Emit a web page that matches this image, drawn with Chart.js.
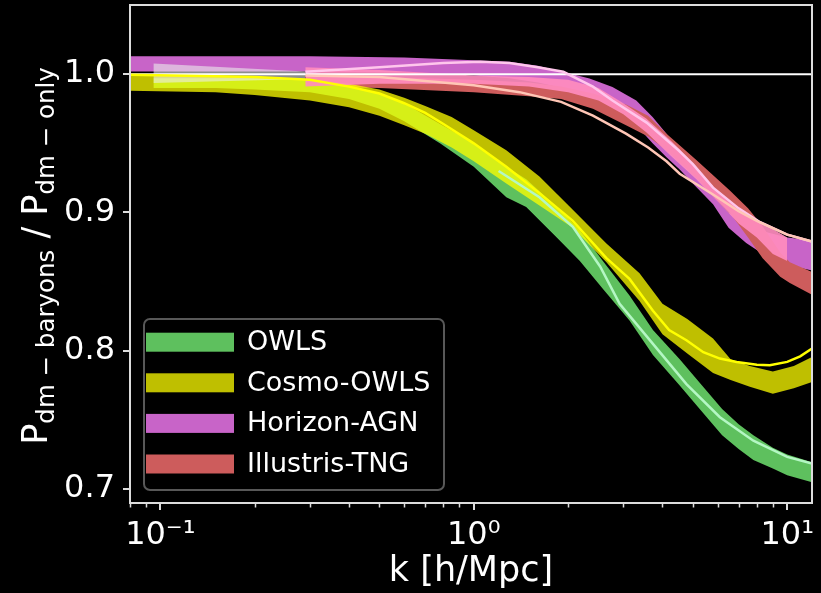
<!DOCTYPE html>
<html>
<head>
<meta charset="utf-8">
<script src="https://cdn.jsdelivr.net/npm/chart.js@4.4.1/dist/chart.umd.min.js"></script>
<style>
  html, body { margin: 0; padding: 0; background: #000; }
  canvas { display: block; }
</style>
</head>
<body>
<canvas id="c" width="821" height="593"></canvas>
<script>
// ---- Ratio of matter power spectra, baryonic runs over dark-matter-only runs ----

// OWLS band
const owlsK  = [0.095, 0.15, 0.2, 0.3, 0.4, 0.5, 0.6, 0.78, 1.0, 1.27, 1.47, 1.84, 2.18, 2.6, 3.14, 3.73, 4.54, 5.3, 6.2, 7.0, 7.8, 9.0, 10, 12];
const owlsLo = [0.990, 0.990, 0.989, 0.987, 0.982, 0.975, 0.966, 0.950, 0.933, 0.911, 0.904, 0.882, 0.865, 0.844, 0.822, 0.797, 0.775, 0.757, 0.739, 0.729, 0.721, 0.715, 0.710, 0.705];
const owlsHi = [0.997, 0.997, 0.997, 0.996, 0.992, 0.986, 0.979, 0.964, 0.950, 0.933, 0.924, 0.904, 0.887, 0.864, 0.840, 0.815, 0.794, 0.776, 0.758, 0.747, 0.739, 0.730, 0.725, 0.7195];

// Cosmo-OWLS band
const cosmoK  = [0.08, 0.15, 0.2, 0.3, 0.4, 0.5, 0.6, 0.7, 0.85, 1.0, 1.27, 1.62, 2.07, 2.65, 3.38, 4.0, 4.8, 5.8, 6.6, 7.6, 9.0, 10.5, 12];
const cosmoLo = [0.988, 0.987, 0.985, 0.981, 0.976, 0.970, 0.963, 0.957, 0.947, 0.937, 0.921, 0.905, 0.889, 0.864, 0.836, 0.812, 0.798, 0.784, 0.779, 0.774, 0.769, 0.773, 0.7775];
const cosmoHi = [0.999, 0.999, 0.998, 0.996, 0.993, 0.989, 0.983, 0.977, 0.969, 0.9595, 0.945, 0.926, 0.902, 0.8776, 0.856, 0.834, 0.823, 0.809, 0.794, 0.789, 0.785, 0.789, 0.7955];

// Horizon-AGN band
const horizonK  = [0.08, 0.3, 0.6, 1.0, 1.3, 1.6, 1.92, 2.34, 2.77, 3.3, 3.72, 4.12, 4.54, 5.0, 5.8, 6.5, 7.4, 8.5, 10, 12];
const horizonLo = [1.002, 1.002, 1.001, 0.999, 0.997, 0.994, 0.990, 0.984, 0.976, 0.963, 0.950, 0.940, 0.931, 0.921, 0.906, 0.889, 0.878, 0.869, 0.862, 0.858];
const horizonHi = [1.013, 1.013, 1.012, 1.010, 1.009, 1.006, 1.0017, 0.9969, 0.9908, 0.981, 0.969, 0.957, 0.944, 0.930, 0.912, 0.900, 0.892, 0.886, 0.882, 0.880];

// Illustris-TNG band
const tngK  = [0.29, 0.5, 1.0, 1.5, 1.9, 2.4, 3.06, 3.6, 4.12, 5.13, 6.55, 7.5, 8.35, 9.5, 10.2, 12];
const tngLo = [0.991, 0.990, 0.987, 0.984, 0.982, 0.975, 0.963, 0.955, 0.945, 0.925, 0.900, 0.882, 0.867, 0.8535, 0.849, 0.8405];
const tngHi = [0.999, 0.998, 0.996, 0.994, 0.991, 0.986, 0.978, 0.970, 0.957, 0.938, 0.916, 0.903, 0.890, 0.871, 0.864, 0.857];

// light grey large-scale band
const paleK  = [0.095, 0.29];
const paleLo = [0.9937, 0.9965];
const paleHi = [1.0077, 1.002];

// pink band
const pinkK  = [0.29, 0.5, 1.0, 1.5, 2.0, 2.5, 3.0, 3.55, 4.3, 5.13, 6.0, 7.0, 8.0, 9.0, 10.0];
const pinkLo = [0.991, 0.993, 0.993, 0.991, 0.987, 0.981, 0.971, 0.958, 0.940, 0.924, 0.908, 0.892, 0.882, 0.870, 0.865];
const pinkHi = [1.005, 1.003, 0.999, 0.998, 0.996, 0.990, 0.979, 0.968, 0.951, 0.933, 0.915, 0.903, 0.895, 0.888, 0.882];

// single curves
const yellowK = [0.08, 0.2, 0.3, 0.4, 0.5, 0.6, 0.7, 0.8, 1.0, 1.27, 1.62, 2.07, 2.65, 3.14, 3.73, 4.2, 4.77, 5.4, 6.1, 6.9, 8.0, 8.8, 10, 11, 12];
const yellowV = [0.9995, 0.998, 0.996, 0.991, 0.986, 0.979, 0.972, 0.964, 0.950, 0.933, 0.914, 0.894, 0.867, 0.852, 0.829, 0.815, 0.8077, 0.799, 0.7944, 0.792, 0.790, 0.7896, 0.792, 0.796, 0.8017];

const mintK = [1.2, 1.62, 2.07, 2.53, 2.92, 3.73, 4.77, 6.1, 7.8, 10, 12];
const mintV = [0.930, 0.911, 0.8896, 0.861, 0.834, 0.805, 0.776, 0.752, 0.735, 0.7233, 0.7185];

const roseK = [0.29, 0.5, 0.8, 1.05, 1.3, 1.6, 1.93, 2.4, 2.77, 3.56, 4.5, 5.0, 5.8, 7.0, 8.2, 10, 12];
const roseV = [1.0017, 1.005, 1.008, 1.009, 1.008, 1.005, 1.0017, 0.991, 0.981, 0.965, 0.945, 0.935, 0.918, 0.903, 0.893, 0.884, 0.879];

const peachK = [0.29, 0.5, 1.0, 1.4, 1.9, 2.4, 3.06, 3.6, 4.12, 4.54, 5.8, 7.0, 8.0, 10, 12];
const peachV = [0.999, 0.998, 0.992, 0.987, 0.980, 0.970, 0.957, 0.947, 0.937, 0.928, 0.913, 0.901, 0.894, 0.884, 0.879];

// reference level
const unityK = [0.08, 12];
const unityV = [1.0, 1.0];

// labels and ticks
const legendLabels = ['OWLS', 'Cosmo-OWLS', 'Horizon-AGN', 'Illustris-TNG'];
const xTickValues = [0.1, 1, 10];
const xTickLabels = ['10\u207B\u00B9', '10\u2070', '10\u00B9'];
const yTickValues = [0.7, 0.8, 0.9, 1.0];
const yTickLabels = ['0.7', '0.8', '0.9', '1.0'];
const xTitle = 'k [h/Mpc]';
const yTitleParts = [['P', 'dm \u2212 baryons'], ['P', 'dm \u2212 only']];

// ---- styling ----
const COL = {
  owls: '#5ec05e',
  cosmo: 'rgba(255,255,0,0.75)',
  horizon: '#c864c8',
  tng: '#cd5c5c',
  pale: 'rgba(235,235,235,0.6)',
  pink: 'rgba(255,140,190,0.92)'
};
const FONT = 'DejaVu Sans';

const pts = (k, v) => k.map((x, i) => ({ x, y: v[i] }));

function band(k, lo, hi, color, order) {
  return [
    { data: pts(k, lo), borderWidth: 0, borderColor: 'rgba(0,0,0,0)', pointRadius: 0, fill: false, order },
    { data: pts(k, hi), borderWidth: 0, borderColor: 'rgba(0,0,0,0)', pointRadius: 0, fill: '-1', backgroundColor: color, order }
  ];
}
function curve(k, v, color, width, order) {
  return { data: pts(k, v), borderColor: color, borderWidth: width, pointRadius: 0, fill: false, order };
}

const datasets = [
  ...band(horizonK, horizonLo, horizonHi, COL.horizon, 90),
  ...band(tngK, tngLo, tngHi, COL.tng, 85),
  ...band(owlsK, owlsLo, owlsHi, COL.owls, 80),
  ...band(cosmoK, cosmoLo, cosmoHi, COL.cosmo, 75),
  ...band(paleK, paleLo, paleHi, COL.pale, 70),
  ...band(pinkK, pinkLo, pinkHi, COL.pink, 65),
  curve(unityK, unityV, '#ffffff', 2, 60),
  curve(yellowK, yellowV, '#ffff00', 2.5, 50),
  curve(mintK, mintV, '#b4f7c4', 2.5, 50),
  curve(peachK, peachV, '#ffc6b6', 2.5, 50),
  curve(roseK, roseV, '#ffc6ec', 2.5, 50)
];

const legendColors = [COL.owls, COL.cosmo, COL.horizon, COL.tng];

// spines, minor ticks, legend and the y-axis title
const decor = {
  id: 'decor',
  afterDatasetsDraw(chart) {
    const { ctx, chartArea: a, scales: { x } } = chart;
    ctx.save();
    ctx.strokeStyle = '#dcdcdc';
    ctx.lineWidth = 2;
    ctx.strokeRect(a.left, a.top, a.right - a.left, a.bottom - a.top);

    // minor ticks on the log axis
    ctx.lineWidth = 1.5;
    ctx.beginPath();
    for (let d = -2; d <= 1; d++) {
      for (let m = 2; m <= 9; m++) {
        const v = m * Math.pow(10, d);
        if (v < x.min || v > x.max) continue;
        const px = Math.round(x.getPixelForValue(v)) + 0.5;
        ctx.moveTo(px, a.bottom);
        ctx.lineTo(px, a.bottom + 4.5);
      }
    }
    ctx.stroke();

    // legend
    const bx = 144, by = 319, bw = 300, bh = 171, r = 6;
    ctx.beginPath();
    ctx.roundRect(bx, by, bw, bh, r);
    ctx.fillStyle = 'rgba(0,0,0,0.8)';
    ctx.fill();
    ctx.strokeStyle = '#585858';
    ctx.lineWidth = 2;
    ctx.stroke();
    ctx.font = `27px "${FONT}"`;
    ctx.textBaseline = 'middle';
    ctx.textAlign = 'left';
    legendLabels.forEach((lab, i) => {
      const cy = 342.2 + i * 40.6;
      ctx.fillStyle = legendColors[i];
      ctx.fillRect(146, cy - 9.5, 88, 19);
      ctx.fillStyle = '#ffffff';
      ctx.fillText(lab, 247, cy + 1);
    });

    // y-axis title with subscripts, written bottom to top
    const big = 35, small = 24.5;
    const pieces = [];
    yTitleParts.forEach((p, i) => {
      if (i > 0) pieces.push({ t: ' / ', s: big, dy: 0 });
      pieces.push({ t: p[0], s: big, dy: 0 });
      pieces.push({ t: p[1], s: small, dy: 7 });
    });
    let total = 0;
    pieces.forEach(p => { ctx.font = `${p.s}px "${FONT}"`; p.w = ctx.measureText(p.t).width; total += p.w; });
    ctx.translate(47, (a.top + a.bottom) / 2 + 2);
    ctx.rotate(-Math.PI / 2);
    ctx.fillStyle = '#ffffff';
    ctx.textBaseline = 'alphabetic';
    let cx = -total / 2;
    pieces.forEach(p => {
      ctx.font = `${p.s}px "${FONT}"`;
      ctx.fillText(p.t, cx, p.dy);
      cx += p.w;
    });
    ctx.restore();
  }
};

Chart.defaults.font.family = FONT;

new Chart(document.getElementById('c'), {
  type: 'line',
  data: { datasets },
  plugins: [decor],
  options: {
    responsive: false,
    animation: false,
    events: [],
    layout: { padding: { top: 5, right: 9, left: 0, bottom: 0 } },
    elements: { line: { tension: 0 }, point: { radius: 0 } },
    plugins: { legend: { display: false }, tooltip: { enabled: false } },
    scales: {
      x: {
        type: 'logarithmic',
        min: 0.08,
        max: 12,
        afterBuildTicks: s => { s.ticks = xTickValues.map(v => ({ value: v })); },
        afterFit: s => { s.height = 90; s.paddingLeft = 0; s.paddingRight = 0; },
        border: { display: false },
        grid: { display: true, drawOnChartArea: false, drawTicks: true, tickLength: 7, color: '#dcdcdc', lineWidth: 2 },
        ticks: {
          color: '#ffffff',
          font: { size: 32 },
          padding: 6,
          maxRotation: 0,
          autoSkip: false,
          callback: v => { const i = xTickValues.findIndex(t => Math.abs(t - v) < 1e-9); return i >= 0 ? xTickLabels[i] : ''; }
        },
        title: { display: true, text: xTitle, color: '#ffffff', font: { size: 35 }, padding: { top: 0, bottom: 0 } }
      },
      y: {
        type: 'linear',
        min: 0.69,
        max: 1.05,
        afterBuildTicks: s => { s.ticks = yTickValues.map(v => ({ value: v })); },
        afterFit: s => { s.width = 130; s.paddingTop = 0; s.paddingBottom = 0; },
        border: { display: false },
        grid: { display: true, drawOnChartArea: false, drawTicks: true, tickLength: 7, color: '#dcdcdc', lineWidth: 2 },
        ticks: {
          color: '#ffffff',
          font: { size: 32 },
          padding: 8,
          callback: v => { const i = yTickValues.findIndex(t => Math.abs(t - v) < 1e-9); return i >= 0 ? yTickLabels[i] : ''; }
        }
      }
    }
  }
});
</script>
</body>
</html>
